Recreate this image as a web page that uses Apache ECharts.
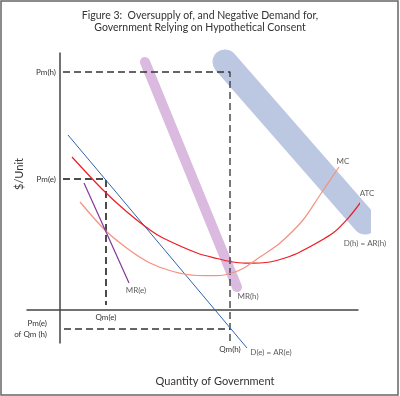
<!DOCTYPE html>
<html>
<head>
<meta charset="utf-8">
<title>Figure 3</title>
<script src="https://cdn.jsdelivr.net/npm/echarts@6/dist/echarts.min.js"></script>
<style>
  html, body { margin: 0; padding: 0; background: #fff; }
  #chart { width: 400px; height: 396px; }
</style>
</head>
<body>
<div id="chart"></div>
<script>
// tick labels on the two axes (value -> text)
var priceTicks = [23.8, 13.1, -1.9];
var priceTickLabels = ['Pm(h)', 'Pm(e)', 'Pm(e)\nof Qm (h)'];
var qtyTicks = [4.6, 17];
var qtyTickLabels = ['Qm(e)', 'Qm(h)'];

// curves, [quantity, $/unit]
var demandH = [[16.5, 24.8], [30.5, 8.8]];          // D(h) = AR(h), wide band
var marginalRevH = [[8.5, 24.8], [17.7, 2.3]];      // MR(h), band
var demandE = [[0.8, 17.5], [18.7, -3.8]];          // D(e) = AR(e)
var marginalRevE = [[2.4, 12.7], [6.9, 2.7]];       // MR(e)
var atc = [[1.2, 15.3], [4.3, 12.0], [6.7, 9.8], [9, 8.0], [10.3, 7.2], [13.7, 5.7], [15.7, 5.15],
  [17, 4.85], [18.5, 4.68], [20, 4.7], [21, 4.8], [22.5, 5.2], [24, 5.8], [27.3, 7.7], [29, 9.4], [30.3, 11.1]];
var mc = [[2.0, 10.8], [4.5, 8.0], [6.8, 6.1], [9, 4.7], [11.3, 3.85], [13.7, 3.45], [15.7, 3.43],
  [17, 3.65], [18.3, 4.15], [20, 5.3], [22, 6.7], [24.3, 9.0], [26, 11.5], [27.9, 14.3]];

// dashed guides
var guideH = [[0.3, 23.8], [17, 23.8], [17, -3.3]];
var guideE = [[0.3, 13.1], [4.6, 13.1], [4.6, 0.5]];
var guideLow = [[0.4, -1.9], [17, -1.9]];

// curve names written next to the curves
var noteNames = ['MC', 'ATC', 'D(h) = AR(h)', 'MR(e)', 'MR(h)', 'D(e) = AR(e)'];
var noteAt = [[28.3, 14.9], [30.7, 11.7], [30.5, 6.7], [7.6, 2.0], [18.8, 1.4], [21.1, -4.2]];

var textColor = '#333';
var fontFamily = 'Lato, "Open Sans", sans-serif';

function nearest(list, v) {
  var best = 0;
  for (var i = 1; i < list.length; i++) {
    if (Math.abs(list[i] - v) < Math.abs(list[best] - v)) best = i;
  }
  return best;
}

function plainLine(name, data, color, width, extra) {
  var s = {
    name: name,
    type: 'line',
    data: data,
    symbol: 'none',
    clip: false,
    silent: true,
    z: 3,
    lineStyle: { color: color, width: width }
  };
  for (var k in extra) s[k] = extra[k];
  return s;
}

var dashed = { type: [7, 4], color: '#333', width: 1.3 };

var chart = echarts.init(document.getElementById('chart'));
chart.setOption({
  animation: false,
  title: {
    text: 'Figure 3:  Oversupply of, and Negative Demand for,\nGovernment Relying on Hypothetical Consent',
    left: 'center',
    top: 4,
    textStyle: { fontSize: 10.5, fontWeight: 'normal', color: textColor, fontFamily: fontFamily, lineHeight: 12.5 }
  },
  graphic: [
    { type: 'rect', shape: { x: 1, y: 1, width: 397, height: 394 }, style: { fill: 'none', stroke: '#666', lineWidth: 1.5 }, silent: true }
  ],
  grid: { left: 27, right: 42, top: 53, bottom: 53, outerBoundsMode: 'none' },
  xAxis: {
    type: 'value',
    min: -3.3,
    max: 29.8,
    offset: -33,
    name: 'Quantity of Government',
    nameLocation: 'middle',
    nameGap: 66,
    nameMoveOverlap: false,
    nameTextStyle: { fontSize: 11, color: textColor, fontFamily: fontFamily, padding: [0, 0, 0, 45] },
    splitLine: { show: false },
    axisTick: { show: false },
    axisLine: { onZero: false, lineStyle: { color: '#444', width: 1.5 } },
    axisLabel: {
      customValues: qtyTicks,
      margin: 3,
      color: textColor,
      fontSize: 8,
      fontFamily: fontFamily,
      formatter: function (v) {
        var i = nearest(qtyTicks, v);
        return i === 1 ? '{low|' + qtyTickLabels[i] + '}' : qtyTickLabels[i];
      },
      rich: { low: { fontSize: 8, fontFamily: fontFamily, color: textColor, padding: [32, 0, 0, 0] } }
    }
  },
  yAxis: {
    type: 'value',
    min: -3.3,
    max: 25.7,
    offset: -33,
    name: '$/Unit',
    nameLocation: 'middle',
    nameGap: 35,
    nameMoveOverlap: false,
    nameTextStyle: { fontSize: 11, color: textColor, fontFamily: fontFamily, padding: [0, 0, 0, 48] },
    splitLine: { show: false },
    axisTick: { show: false },
    axisLine: { onZero: false, lineStyle: { color: '#444', width: 1.5 } },
    axisLabel: {
      customValues: priceTicks,
      margin: 4,
      color: textColor,
      fontSize: 8,
      fontFamily: fontFamily,
      formatter: function (v) {
        var i = nearest(priceTicks, v);
        if (i === 2) {
          return priceTickLabels[i].split('\n').map(function (t) { return '{low|' + t + '}'; }).join('\n');
        }
        return priceTickLabels[i];
      },
      rich: { low: { fontSize: 8, fontFamily: fontFamily, color: textColor, lineHeight: 11, padding: [0, 9, 0, 0] } }
    }
  },
  series: [
    plainLine('D(h) = AR(h)', demandH, '#bcc8e1', 25, { z: 1, lineStyle: { color: '#bcc8e1', width: 25, cap: 'round' } }),
    plainLine('MR(h)', marginalRevH, '#dbbadf', 10, { z: 1, lineStyle: { color: '#dbbadf', width: 10, cap: 'round' } }),
    plainLine('guide h', guideH, '#333', 1.3, { z: 2, lineStyle: dashed }),
    plainLine('guide e', guideE, '#333', 1.3, { z: 2, lineStyle: { type: [7, 4], color: '#111', width: 1.5 } }),
    plainLine('guide low', guideLow, '#333', 1.3, { z: 2, lineStyle: dashed }),
    plainLine('D(e) = AR(e)', demandE, '#2f62ad', 1),
    plainLine('ATC', atc, '#ee1c24', 1.2, { smooth: 0.3 }),
    plainLine('MC', mc, '#f4927f', 1.2, { smooth: 0.3 }),
    plainLine('MR(e)', marginalRevE, '#86389a', 1.2),
    {
      name: 'notes',
      type: 'scatter',
      symbolSize: 0,
      silent: true,
      clip: false,
      z: 4,
      data: noteAt.map(function (p, i) { return { value: p, name: noteNames[i] }; }),
      label: {
        show: true,
        position: 'inside',
        formatter: '{b}',
        color: textColor,
        fontSize: 8,
        fontFamily: fontFamily
      }
    }
  ]
});
</script>
</body>
</html>
